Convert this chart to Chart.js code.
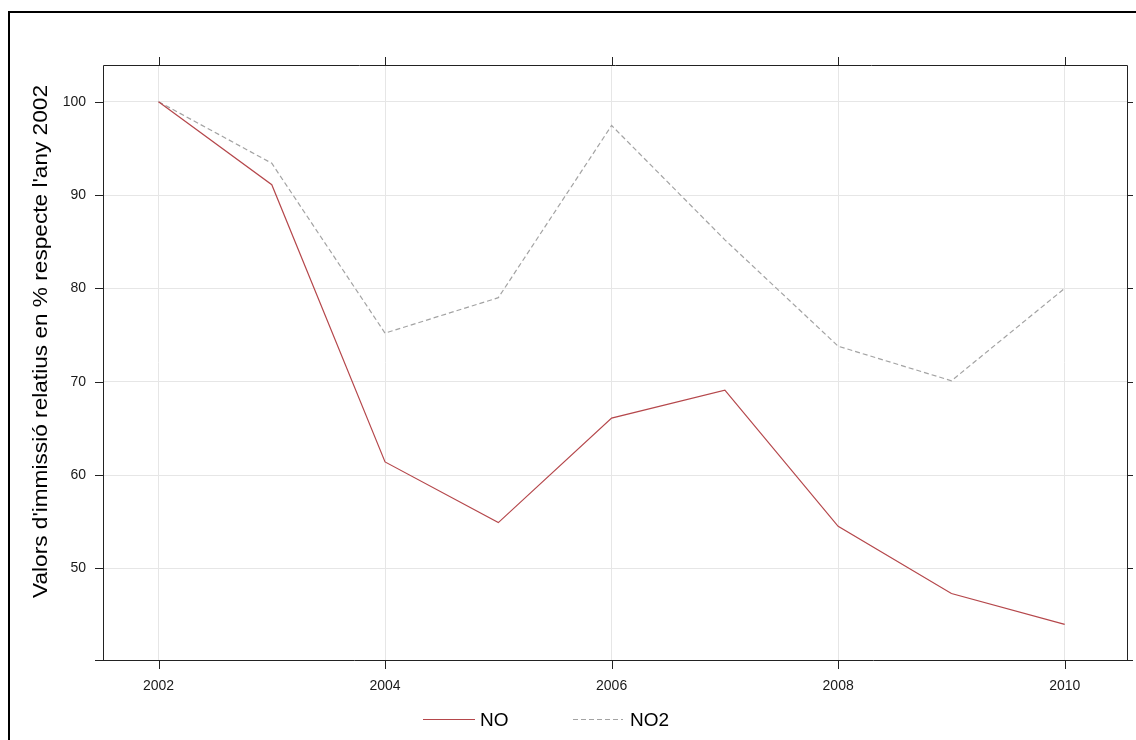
<!DOCTYPE html>
<html>
<head>
<meta charset="utf-8">
<script src="https://cdn.jsdelivr.net/npm/chart.js@4.4.1/dist/chart.umd.min.js"></script>
<style>
  html, body { margin: 0; padding: 0; background: #ffffff; }
  canvas { display: block; }
</style>
</head>
<body>
<canvas id="c" width="1136" height="740"></canvas>
<script>
const years = [2002, 2003, 2004, 2005, 2006, 2007, 2008, 2009, 2010];
const noValues = [100, 91.1, 61.4, 54.9, 66.1, 69.1, 54.5, 47.3, 44.0];
const no2Values = [100, 93.4, 75.2, 79.0, 97.45, 85.2, 73.8, 70.1, 80.0];
const xTicks = [2002, 2004, 2006, 2008, 2010];
const yTicks = [50, 60, 70, 80, 90, 100];
const yTitle = "Valors d'immissió relatius en % respecte l'any 2002";
const seriesNames = ['NO', 'NO2'];

const FONT = '"Liberation Sans", Arial, sans-serif';

const framePlugin = {
  id: 'frame',
  afterDraw(chart) {
    const ctx = chart.ctx;
    const a = chart.chartArea;
    const xs = chart.scales.x, ys = chart.scales.y;
    ctx.save();
    // outer border
    ctx.strokeStyle = '#000';
    ctx.lineWidth = 2;
    ctx.strokeRect(9, 12, 1140, 740);
    // plot box
    ctx.strokeStyle = '#222';
    ctx.lineWidth = 1;
    ctx.beginPath();
    ctx.moveTo(a.left + 0.5, a.top + 0.5);
    ctx.lineTo(a.right + 0.5, a.top + 0.5);
    ctx.lineTo(a.right + 0.5, a.bottom + 0.5);
    ctx.moveTo(a.left + 0.5, a.top + 0.5);
    ctx.lineTo(a.left + 0.5, a.bottom + 0.5);
    ctx.moveTo(a.left - 8, a.bottom + 0.5);
    ctx.lineTo(a.right + 6, a.bottom + 0.5);
    // ticks
    xTicks.forEach(v => {
      const px = Math.round(xs.getPixelForValue(v)) + 0.5;
      ctx.moveTo(px, a.bottom); ctx.lineTo(px, a.bottom + 9);
      ctx.moveTo(px, a.top); ctx.lineTo(px, a.top - 8);
    });
    yTicks.forEach(v => {
      const py = Math.round(ys.getPixelForValue(v)) + 0.5;
      ctx.moveTo(a.left, py); ctx.lineTo(a.left - 8, py);
      ctx.moveTo(a.right, py); ctx.lineTo(a.right + 6, py);
    });
    ctx.stroke();

    // y title
    ctx.fillStyle = '#000';
    ctx.font = '21px ' + FONT;
    ctx.textAlign = 'center';
    ctx.textBaseline = 'middle';
    const w = ctx.measureText(yTitle).width;
    ctx.translate(41, 341.5);
    ctx.rotate(-Math.PI / 2);
    ctx.scale(513 / w, 1);
    ctx.fillText(yTitle, 0, 0);
    ctx.restore();

    // legend
    ctx.save();
    const legendY = 719.5;
    const items = [
      { x0: 423, x1: 475, tx: 480 },
      { x0: 573, x1: 623, tx: 630 }
    ];
    chart.data.datasets.forEach((ds, i) => {
      const it = items[i];
      ctx.strokeStyle = ds.borderColor;
      ctx.lineWidth = 1;
      ctx.setLineDash(ds.borderDash || []);
      ctx.beginPath();
      ctx.moveTo(it.x0, legendY);
      ctx.lineTo(it.x1, legendY);
      ctx.stroke();
      ctx.setLineDash([]);
      ctx.fillStyle = '#000';
      ctx.font = '19px ' + FONT;
      ctx.textAlign = 'left';
      ctx.textBaseline = 'middle';
      ctx.fillText(ds.label, it.tx, legendY + 1);
    });
    ctx.restore();
  }
};

const bgPlugin = {
  id: 'bg',
  beforeDraw(chart) {
    const ctx = chart.ctx;
    ctx.save();
    ctx.fillStyle = '#fff';
    ctx.fillRect(0, 0, chart.width, chart.height);
    ctx.restore();
  }
};

new Chart(document.getElementById('c'), {
  type: 'line',
  data: {
    datasets: [
      {
        label: seriesNames[0],
        data: years.map((y, i) => ({ x: y, y: noValues[i] })),
        borderColor: '#b5474b',
        borderWidth: 1.2,
        pointRadius: 0,
        tension: 0,
        fill: false
      },
      {
        label: seriesNames[1],
        data: years.map((y, i) => ({ x: y, y: no2Values[i] })),
        borderColor: '#a3a3a3',
        borderWidth: 1.2,
        borderDash: [5, 3],
        pointRadius: 0,
        tension: 0,
        fill: false
      }
    ]
  },
  options: {
    responsive: false,
    animation: false,
    devicePixelRatio: 1,
    layout: { padding: { left: 0, top: 65, right: 9, bottom: 0 } },
    plugins: { legend: { display: false }, tooltip: { enabled: false }, title: { display: false } },
    scales: {
      x: {
        type: 'linear',
        min: 2001.51,
        max: 2010.55,
        afterFit(s) { s.height = 80; },
        afterBuildTicks(s) { s.ticks = xTicks.map(v => ({ value: v })); },
        ticks: {
          includeBounds: false,
          stepSize: 2,
          padding: 18,
          color: '#1a1a1a',
          font: { family: FONT, size: 14 },
          maxRotation: 0,
          callback: v => String(v)
        },
        grid: { color: '#e6e6e6', lineWidth: 1, drawTicks: false },
        border: { display: false }
      },
      y: {
        type: 'linear',
        min: 40.18,
        max: 103.93,
        afterFit(s) { s.width = 103; },
        afterBuildTicks(s) { s.ticks = yTicks.map(v => ({ value: v })); },
        ticks: {
          includeBounds: false,
          stepSize: 10,
          padding: 17,
          color: '#1a1a1a',
          font: { family: FONT, size: 14 },
          callback: v => String(v)
        },
        grid: { color: '#e6e6e6', lineWidth: 1, drawTicks: false },
        border: { display: false }
      }
    }
  },
  plugins: [bgPlugin, framePlugin]
});
</script>
</body>
</html>
